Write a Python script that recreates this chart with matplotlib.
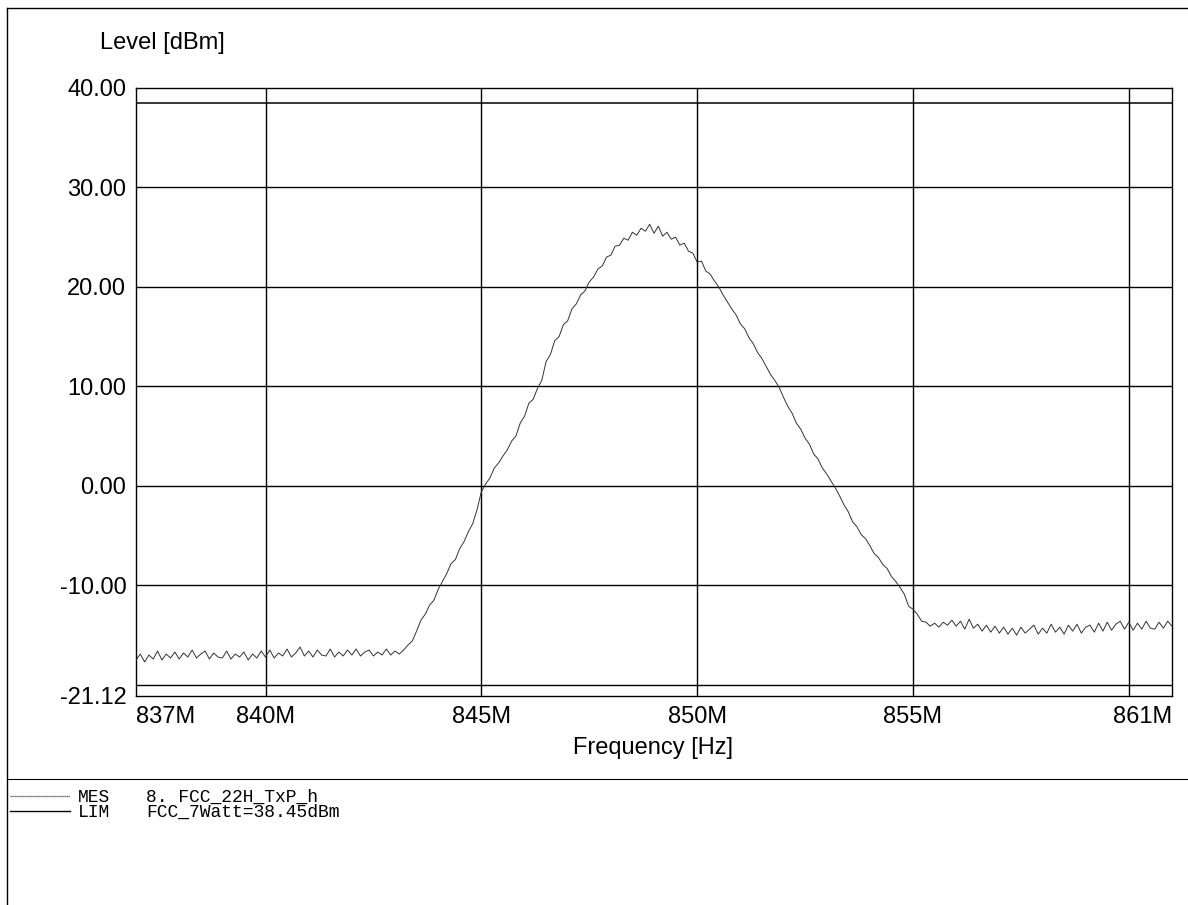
import numpy as np
import matplotlib
matplotlib.use("Agg")
import matplotlib.pyplot as plt
from matplotlib.lines import Line2D

# sweep settings (MHz)
F_START = 837.0
F_STOP = 861.0

# measured level, one reading every 100 kHz from 837.0 to 861.0 MHz
level_dbm = [
    -17.5, -16.9, -17.7, -17.0, -17.4, -16.6, -17.5, -16.9, -17.3, -16.7,
    -17.4, -16.8, -17.2, -16.5, -17.3, -16.9, -16.6, -17.4, -16.8, -17.2,
    -17.3, -16.6, -17.4, -16.9, -17.2, -16.7, -17.5, -16.9, -17.3, -16.6,
    -17.2, -16.5, -17.3, -16.8, -17.1, -16.4, -17.2, -16.8, -16.2, -17.1,
    -16.6, -17.2, -16.5, -17.0, -17.1, -16.4, -17.2, -16.7, -17.1, -16.5,
    -17.0, -16.4, -17.1, -16.7, -16.5, -17.1, -16.7, -17.0, -16.4, -17.0,
    -16.6, -16.9, -16.5,
    -16.0, -15.6, -14.6, -13.5, -12.9, -12.0, -11.5,
    -10.4, -9.6, -8.8, -7.8, -7.4, -6.3, -5.6, -4.6, -3.8, -2.4,
    -0.6, 0.2, 0.8, 1.8, 2.3, 3.0, 3.6, 4.5, 5.0, 6.3,
    7.0, 8.3, 8.7, 9.8, 10.6, 12.5, 13.2, 14.6, 15.0, 16.2,
    16.6, 17.8, 18.3, 19.2, 19.6, 20.5, 21.0, 21.8, 22.1, 23.0,
    23.2, 24.1, 24.2, 24.9, 24.7, 25.5, 25.2, 25.9, 25.6, 26.3,
    25.4, 26.1, 25.1, 25.5, 24.8, 25.0, 24.2, 24.4, 23.6, 23.4,
    22.5, 22.6, 21.6, 21.3, 20.6, 20.0, 19.2, 18.5, 17.8, 17.2,
    16.3, 15.8, 14.9, 14.3, 13.4, 12.8, 12.0, 11.2, 10.6, 9.9,
    8.9, 8.0, 7.3, 6.3, 5.7, 4.8, 4.2, 3.2, 2.7, 1.8,
    1.2, 0.5, -0.2, -1.0, -1.9, -2.6, -3.6, -4.1, -4.9, -5.3,
    -6.0, -6.8, -7.2, -7.9, -8.3, -9.1, -9.6, -10.2, -10.9, -12.1,
    -12.4, -12.9, -13.6, -13.7, -14.1, -13.8, -14.2, -13.7, -14.0, -13.5,
    -14.1,
    -13.6, -14.4, -13.4, -14.3, -13.9, -14.6, -14.0, -14.7, -14.1, -14.8,
    -14.2, -14.9, -14.3, -15.0, -14.2, -14.8, -14.4, -14.0, -14.9, -14.3,
    -14.8, -13.9, -14.7, -14.2, -14.9, -14.0, -14.6, -13.9, -14.8, -14.2,
    -14.0, -14.7, -13.8, -14.6, -13.7, -14.5, -13.9, -13.6, -14.4, -13.7,
    -14.5, -13.8, -14.4, -13.6, -14.3, -14.4, -13.7, -14.3, -13.6, -14.1,
]

limit_dbm = 38.45
y_min, y_max = -21.12, 40.0

y_ticks = [40.0, 30.0, 20.0, 10.0, 0.0, -10.0, -21.12]
y_grid = [30.0, 20.0, 10.0, 0.0, -10.0, -20.0]
x_ticks = [837, 840, 845, 850, 855, 861]
x_grid = [840, 845, 850, 855, 860]

legend_rows = [("MES", "8. FCC_22H_TxP_h"), ("LIM", "FCC_7Watt=38.45dBm")]

freq = np.linspace(F_START, F_STOP, len(level_dbm))

W, H = 1188, 905
fig = plt.figure(figsize=(W / 100, H / 100), dpi=100)
fig.patch.set_facecolor("white")

def fx(px):
    return px / W

def fy(py):
    return 1 - py / H

ax = fig.add_axes([fx(136), fy(696), fx(1172) - fx(136), fy(88) - fy(696)])

for g in y_grid:
    ax.axhline(g, color="black", lw=1.0, zorder=1)
for g in x_grid:
    ax.axvline(g, color="black", lw=1.0, zorder=1)

# limit line
ax.axhline(limit_dbm, color="black", lw=1.1, zorder=2)

# measured trace
ax.plot(freq, level_dbm, color="#333333", lw=0.7, zorder=3)

ax.set_xlim(F_START, F_STOP)
ax.set_ylim(y_min, y_max)

font = "Liberation Sans"
ax.set_yticks(y_ticks)
ax.set_yticklabels(["%.2f" % v for v in y_ticks], fontsize=17, family=font)
ax.set_xticks(x_ticks)
ax.set_xticklabels(["%dM" % v for v in x_ticks], fontsize=17, family=font)
ax.tick_params(length=0, pad=7)
xl = ax.get_xticklabels()
xl[0].set_horizontalalignment("left")
xl[-1].set_horizontalalignment("right")

for s in ax.spines.values():
    s.set_color("black")
    s.set_linewidth(1.0)

fig.text(fx(100), fy(43), "Level [dBm]", fontsize=17, family=font,
         ha="left", va="center")
fig.text(fx(653), fy(748), "Frequency [Hz]", fontsize=17, family=font,
         ha="center", va="center")

# page frame and separator
fig.add_artist(Line2D([fx(7), fx(7)], [fy(8), fy(905)], color="black", lw=1.0))
fig.add_artist(Line2D([fx(7), fx(1188)], [fy(8), fy(8)], color="black", lw=1.0))
fig.add_artist(Line2D([fx(7), fx(1188)], [fy(779), fy(779)], color="black", lw=0.8))

# legend
row_y = [797, 812]
styles = [dict(color="#444444", lw=0.9, ls=(0, (1, 0.6))), dict(color="black", lw=1.0)]
for (tag, name), py, st in zip(legend_rows, row_y, styles):
    fig.add_artist(Line2D([fx(10), fx(70)], [fy(py - 1), fy(py - 1)], **st))
    fig.text(fx(78), fy(py), tag, fontsize=13, family="Liberation Mono",
             ha="left", va="center")
    fig.text(fx(146), fy(py), name, fontsize=13, family="Liberation Mono",
             ha="left", va="center")

fig.savefig("out.png", dpi=100, facecolor="white")
